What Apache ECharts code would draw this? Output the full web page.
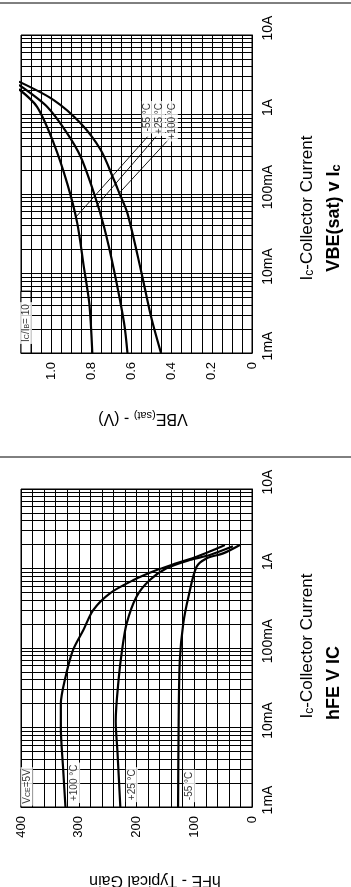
<!DOCTYPE html>
<html>
<head>
<meta charset="utf-8">
<script src="https://cdn.jsdelivr.net/npm/echarts@6/dist/echarts.min.js"></script>
<style>
html, body { margin: 0; padding: 0; background: #fff; }
#chart-container { width: 351px; height: 887px; }
</style>
</head>
<body>
<div id="chart-container"></div>
<script>
// collector current axis (mA, log)
var icTickValues = [1, 10, 100, 1000, 10000];
var icTickLabels = ['1mA', '10mA', '100mA', '1A', '10A'];

// VBE(sat) axis (V)
var vbeTickValues = [0, 0.2, 0.4, 0.6, 0.8, 1.0];
var vbeTickLabels = ['0', '0.2', '0.4', '0.6', '0.8', '1.0'];

// hFE axis
var hfeTickValues = [0, 100, 200, 300, 400];
var hfeTickLabels = ['0', '100', '200', '300', '400'];

// VBE(sat) v Ic curves: [Ic mA, VBE V]
var vbeMinus55 = [[1, 0.795], [4.2, 0.81], [12, 0.837], [43, 0.87], [136, 0.92], [434, 0.987], [1250, 1.07], [2080, 1.16]];
var vbePlus25 = [[1, 0.62], [2.4, 0.637], [11, 0.687], [39, 0.737], [103, 0.787], [294, 0.853], [580, 0.92], [1250, 1.02], [2350, 1.16]];
var vbePlus100 = [[1, 0.453], [2.9, 0.503], [11, 0.553], [57, 0.62], [102, 0.66], [150, 0.687], [357, 0.753], [775, 0.853], [1520, 0.987], [2590, 1.16]];

// leader lines from the temperature labels: [Ic mA, VBE V]
var leaderMinus55 = [[49.5, 0.882], [526, 0.52]];
var leaderPlus25 = [[69, 0.778], [526, 0.478]];
var leaderPlus100 = [[102, 0.662], [552, 0.395]];

// hFE v Ic curves: [Ic mA, hFE]
var hfeMinus55 = [[1, 128], [12, 127], [70, 125], [204, 119], [442, 110], [1050, 96], [1340, 79], [1550, 50], [1980, 21]];
var hfePlus25 = [[1, 228], [5, 233], [12, 236], [40, 231], [94, 225], [204, 217], [442, 200], [716, 177], [1006, 148], [1279, 108], [1479, 73], [1900, 33]];
var hfePlus100 = [[1, 323], [3, 327], [10, 331], [20, 331], [40, 324], [94, 310], [168, 292], [300, 275], [488, 246], [716, 205], [955, 165], [1162, 131], [1407, 96], [1710, 67], [1976, 47]];

var FONT = 'Liberation Sans';
var chart;

function minorLogLines() {
    var out = [];
    for (var d = 1; d < 10000; d *= 10) {
        for (var k = 2; k <= 9; k++) {
            out.push({ yAxis: d * k });
        }
    }
    return out;
}

function swap(arr) {
    return arr.map(function (p) { return [p[1], p[0]]; });
}

function tickFormatter(values, labels) {
    return function (v) {
        for (var i = 0; i < values.length; i++) {
            if (Math.abs(v - values[i]) < 1e-6 * Math.max(1, values[i])) {
                return labels[i];
            }
        }
        return '';
    };
}

function curve(data, gridIndex, extra) {
    var s = {
        type: 'line',
        xAxisIndex: gridIndex,
        yAxisIndex: gridIndex,
        data: swap(data),
        smooth: 0.3,
        symbol: 'none',
        z: 2,
        lineStyle: { color: '#000', width: 2.2 },
        animation: false,
        silent: true
    };
    if (extra) {
        for (var k in extra) s[k] = extra[k];
    }
    return s;
}

function leader(data) {
    return {
        type: 'line',
        xAxisIndex: 0,
        yAxisIndex: 0,
        data: swap(data),
        symbol: 'none',
        z: 2,
        lineStyle: { color: '#000', width: 0.9 },
        animation: false,
        silent: true
    };
}

function tag(gridIndex, x, y, text, align) {
    return {
        type: 'scatter',
        xAxisIndex: gridIndex,
        yAxisIndex: gridIndex,
        data: [[x, y]],
        symbolSize: 1,
        z: 5,
        itemStyle: { color: 'transparent' },
        animation: false,
        silent: true,
        label: {
            show: true,
            position: 'inside',
            formatter: text,
            rotate: 90,
            align: align,
            verticalAlign: 'middle',
            color: '#000',
            fontFamily: FONT,
            fontSize: 10,
            backgroundColor: '#fff',
            padding: [1, 2],
            rich: {
                s: { fontSize: 7, fontFamily: FONT, color: '#000', verticalAlign: 'bottom', padding: [3, 0, 0, 0] }
            }
        }
    };
}

function whiteBox(gridIndex, from, to) {
    return {
        type: 'line',
        xAxisIndex: gridIndex,
        yAxisIndex: gridIndex,
        data: [],
        z: 3,
        animation: false,
        silent: true,
        markArea: {
            silent: true,
            itemStyle: { color: '#fff', borderColor: '#000', borderWidth: 1 },
            data: [[{ coord: from }, { coord: to }]]
        }
    };
}

function valueAxis(gridIndex, max, interval, values, labels) {
    return {
        type: 'value',
        gridIndex: gridIndex,
        min: 0,
        max: max,
        interval: interval,
        inverse: true,
        position: 'bottom',
        axisLine: { show: true, lineStyle: { color: '#000', width: 1 } },
        axisTick: { show: false },
        splitLine: { show: true, lineStyle: { color: '#000', width: 1 } },
        axisLabel: {
            rotate: 90,
            margin: 9,
            fontSize: 13,
            fontFamily: FONT,
            color: '#000',
            showMinLabel: true,
            showMaxLabel: true,
            formatter: tickFormatter(values, labels)
        }
    };
}

function logAxis(gridIndex) {
    return {
        type: 'log',
        logBase: 10,
        gridIndex: gridIndex,
        min: 1,
        max: 10000,
        position: 'right',
        axisLine: { show: true, lineStyle: { color: '#000', width: 1 } },
        axisTick: { show: false },
        splitLine: { show: true, lineStyle: { color: '#000', width: 1 } },
        axisLabel: {
            rotate: 90,
            margin: 9,
            fontSize: 14,
            fontFamily: FONT,
            color: '#000',
            showMinLabel: true,
            showMaxLabel: true,
            padding: [0, 0, 0, 14],
            formatter: tickFormatter(icTickValues, icTickLabels)
        }
    };
}

var gridMarks = {
    silent: true,
    symbol: ['none', 'none'],
    label: { show: false },
    lineStyle: { color: '#000', width: 1, type: 'solid' },
    animation: false,
    data: minorLogLines()
};

var titleRich = {
    a: { fontSize: 17, fontFamily: FONT, fill: '#000' },
    s: { fontSize: 12, fontFamily: FONT, fill: '#000', verticalAlign: 'bottom', padding: [5, 0, 0, 0] },
    b: { fontSize: 18, fontFamily: FONT, fontWeight: 'bold', fill: '#000' },
    bs: { fontSize: 13, fontFamily: FONT, fontWeight: 'bold', fill: '#000', verticalAlign: 'bottom', padding: [5, 0, 0, 0] },
    y: { fontSize: 16, fontFamily: FONT, fill: '#000' },
    ys: { fontSize: 11, fontFamily: FONT, fill: '#000', verticalAlign: 'bottom', padding: [5, 0, 0, 0] }
};

function titleText(x, y, rotation, text) {
    return {
        type: 'text',
        x: x,
        y: y,
        rotation: rotation,
        silent: true,
        style: {
            text: text,
            rich: titleRich,
            align: 'center',
            verticalAlign: 'middle'
        }
    };
}

var option = {
    backgroundColor: '#fff',
    animation: false,
    grid: [
        { left: 21, top: 35, width: 231, height: 318, show: true, borderColor: '#000', borderWidth: 1, backgroundColor: 'transparent' },
        { left: 21, top: 489, width: 231, height: 318, show: true, borderColor: '#000', borderWidth: 1, backgroundColor: 'transparent' }
    ],
    xAxis: [
        valueAxis(0, 1.15, 0.05, vbeTickValues, vbeTickLabels),
        valueAxis(1, 400, 20, hfeTickValues, hfeTickLabels)
    ],
    yAxis: [logAxis(0), logAxis(1)],
    series: [
        curve(vbeMinus55, 0, { markLine: gridMarks }),
        curve(vbePlus25, 0),
        curve(vbePlus100, 0),
        leader(leaderMinus55),
        leader(leaderPlus25),
        leader(leaderPlus100),
        whiteBox(0, [1.15, 1], [1.10, 6]),
        tag(0, 1.125, 1.3, '{a|I}{s|C}{a|/I}{s|B}{a|= 10}', 'left'),
        tag(0, 0.519, 1480, '-55 °C', 'right'),
        tag(0, 0.4615, 1480, '+25 °C', 'right'),
        tag(0, 0.399, 1480, '+100 °C', 'right'),

        curve(hfeMinus55, 1, { markLine: gridMarks }),
        curve(hfePlus25, 1),
        curve(hfePlus100, 1),
        whiteBox(1, [400, 1], [380, 3]),
        tag(1, 390, 1.04, '{a|V}{s|CE}{a|=5V}', 'left'),
        tag(1, 308, 1.12, '+100 °C', 'left'),
        tag(1, 208, 1.15, '+25 °C', 'left'),
        tag(1, 108, 1.15, '-55 °C', 'left')
    ],
    graphic: [
        { type: 'line', silent: true, shape: { x1: 0, y1: 3, x2: 351, y2: 3 }, style: { stroke: '#000', lineWidth: 1 } },
        { type: 'line', silent: true, shape: { x1: 0, y1: 457, x2: 351, y2: 457 }, style: { stroke: '#000', lineWidth: 1 } },
        titleText(307, 208, Math.PI / 2, '{a|I}{s|c}{a|-Collector Current}'),
        titleText(334, 218, Math.PI / 2, '{b|VBE(sat) v I}{bs|c}'),
        titleText(143, 418, Math.PI, '{y|VBE}{ys|(sat)}{y| - (V)}'),
        titleText(307, 646, Math.PI / 2, '{a|I}{s|c}{a|-Collector Current}'),
        titleText(334, 683, Math.PI / 2, '{b|hFE V IC}'),
        titleText(155, 880, Math.PI, '{y|hFE - Typical Gain}')
    ]
};

chart = echarts.init(document.getElementById('chart-container'), null, { renderer: 'canvas' });
chart.setOption(option);
</script>
</body>
</html>
